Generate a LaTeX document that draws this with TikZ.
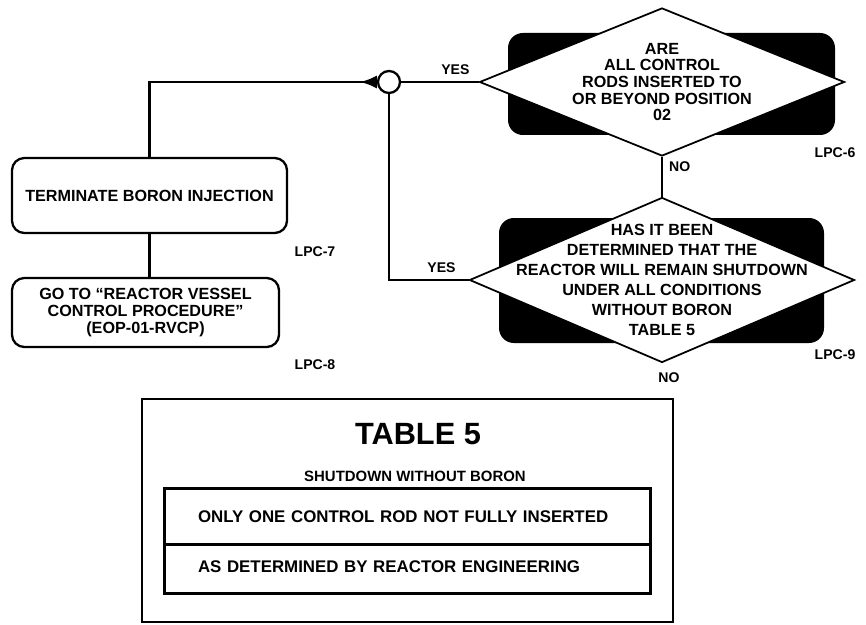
\documentclass[tikz,border=0pt]{standalone}
\usepackage{fontspec}
\setmainfont{Liberation Sans}
\usepackage{tikz}
\usetikzlibrary{arrows.meta,shapes.geometric}

\begin{document}
\begin{tikzpicture}[
  font=\bfseries\fontsize{9.2}{9.7}\selectfont,
  wire/.style={line width=1.5pt},
  stepbox/.style={draw,line width=1.3pt,rounded corners=7pt,align=center,inner sep=0pt},
  decision/.style={diamond,draw,fill=white,line width=1pt,inner sep=0pt},
  blackbg/.style={fill=black,rounded corners=8.5pt,inner sep=0pt},
  lbl/.style={font=\bfseries\fontsize{8}{9}\selectfont},
  row/.style={draw,line width=.6pt,text width=8.38cm,inner xsep=.66cm,inner ysep=0pt,
    align=left,font=\bfseries\fontsize{9.6}{10}\selectfont}]
  \useasboundingbox (0,0) rectangle (17.32,-12.5);

  % decisions
  \node[blackbg,minimum width=6.54cm,minimum height=2.04cm] (q6bg) at (13.43,-1.68) {};
  \node[decision,minimum width=7.3cm,minimum height=2.96cm,
    label={[align=center,font=\bfseries\fontsize{9.2}{9.4}\selectfont]center:ARE\\ALL CONTROL\\RODS INSERTED TO\\OR BEYOND POSITION\\02}]
    (q6) at (13.24,-1.64) {};
  \node[lbl] (lpc6) at (16.7,-3.06) {LPC-6};

  \node[blackbg,minimum width=6.5cm,minimum height=2.5cm] (q9bg) at (13.23,-5.61) {};
  \node[decision,minimum width=7.7cm,minimum height=3.3cm,
    label={[align=center,font=\bfseries\fontsize{9.2}{11.4}\selectfont]center:HAS IT BEEN\\DETERMINED THAT THE\\REACTOR WILL REMAIN SHUTDOWN\\UNDER ALL CONDITIONS\\WITHOUT BORON\\TABLE 5}]
    (q9) at (13.24,-5.6) {};
  \node[lbl] (lpc9) at (16.7,-7.1) {LPC-9};
  \node[lbl] (no9) at (13.38,-7.56) {NO};

  % actions
  \node[circle,draw,fill=white,line width=1.3pt,minimum size=.44cm,inner sep=0pt] (jn) at (7.78,-1.64) {};
  \node[stepbox,minimum width=5.5cm,minimum height=1.5cm] (term) at (2.99,-3.91) {TERMINATE BORON INJECTION};
  \node[lbl] (lpc7) at (6.3,-5.04) {LPC-7};
  \node[stepbox,minimum width=5.34cm,minimum height=1.38cm] (goto) at (2.91,-6.25)
    {GO TO ``REACTOR VESSEL\\CONTROL PROCEDURE''\\(EOP-01-RVCP)};
  \node[lbl] (lpc8) at (6.3,-7.3) {LPC-8};

  \draw[wire] (q6.west) -- (jn.east) node[lbl,pos=.3,above] {YES};
  \draw[wire,{Latex[reversed,length=.34cm,width=.26cm]}-] (jn.west) -| (term.north);
  \draw[wire] (jn.south) |- (q9.west) node[lbl,pos=.83,above] {YES};
  \draw[wire] (q6.south) -- (q9.north) node[lbl,pos=.25,right] {NO};
  \draw[wire] (term.south) -- (term.south |- goto.north);

  % table 5
  \node[draw,line width=1.2pt,minimum width=10.62cm,minimum height=4.46cm] (tbl) at (8.15,-10.21) {};
  \node[font=\bfseries\fontsize{17.5}{20}\selectfont] (tbltitle) at (8.36,-8.68) {TABLE 5};
  \node[font=\bfseries\fontsize{8.5}{10}\selectfont] (tblsub) at (8.3,-9.52) {SHUTDOWN WITHOUT BORON};
  \node[row,minimum height=1.1cm] (row1) at (8.15,-10.33) {ONLY ONE CONTROL ROD NOT FULLY INSERTED};
  \node[row,minimum height=.96cm,anchor=north] (row2) at (row1.south) {\raisebox{.1cm}{AS DETERMINED BY REACTOR ENGINEERING}};
  \draw[line width=1.8pt] (row1.north west) rectangle (row2.south east);
\end{tikzpicture}
\end{document}
